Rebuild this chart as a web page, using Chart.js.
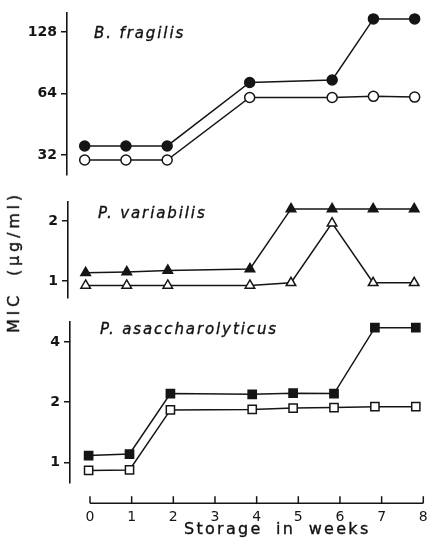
<!DOCTYPE html>
<html>
<head>
<meta charset="utf-8">
<script src="https://cdn.jsdelivr.net/npm/chart.js@4.4.1/dist/chart.umd.min.js"></script>
<style>
  html, body { margin: 0; padding: 0; background: #fff; }
  #wrap { position: relative; width: 429px; height: 545px; overflow: hidden; background: #fff; }
  canvas { position: absolute; left: 0; }
  .lbl { position: absolute; font-family: 'DejaVu Sans', sans-serif; color: #111; white-space: nowrap; line-height: 16px; -webkit-text-stroke: 0.35px #111; }
  .panel { font-style: italic; font-size: 15px; letter-spacing: 1.9px; }
  #ytitle { left: 14px; top: 262px; font-size: 16px; letter-spacing: 3.8px; word-spacing: 7px; transform: translate(-50%, -50%) rotate(-90deg); }
  #xtitle { left: 184px; top: 521px; font-size: 16px; letter-spacing: 2.3px; word-spacing: 6px; }
</style>
</head>
<body>
<div id="wrap">
  <canvas id="c1" width="429" height="182" style="top:0px"></canvas>
  <canvas id="c2" width="429" height="115" style="top:190px"></canvas>
  <canvas id="c3" width="429" height="180" style="top:310px"></canvas>
  <canvas id="cx" width="429" height="44" style="top:480px"></canvas>
  <div class="lbl panel" style="left:94px; top:25px;">B. fragilis</div>
  <div class="lbl panel" style="left:98px; top:205px;">P. variabilis</div>
  <div class="lbl panel" style="left:100px; top:321px;">P. asaccharolyticus</div>
  <div class="lbl" id="ytitle">MIC (μg/ml)</div>
  <div class="lbl" id="xtitle">Storage in weeks</div>
</div>
<script>
// ---- data ----
const fragWeeks  = [0, 1, 2, 4, 6, 7, 8];
const fragFilled = [35.4, 35.4, 35.4, 72.5, 74.6, 148.7, 148.7];
const fragOpen   = [30.2, 30.2, 30.2, 61.2, 61.2, 62, 61.5];
const fragTicks  = [32, 64, 128];

const variWeeks  = [0, 1, 2, 4, 5, 6, 7, 8];
const variFilled = [1.10, 1.11, 1.13, 1.15, 2.3, 2.3, 2.3, 2.3];
const variOpen   = [0.95, 0.95, 0.95, 0.95, 0.98, 1.95, 0.98, 0.98];
const variTicks  = [1, 2];

const asacWeeks  = [0, 1, 2, 4, 5, 6, 7, 8];
const asacFilled = [1.08, 1.10, 2.21, 2.19, 2.22, 2.21, 4.73, 4.73];
const asacOpen   = [0.91, 0.915, 1.83, 1.84, 1.87, 1.88, 1.9, 1.9];
const asacTicks  = [1, 2, 4];

const weekTicks  = [0, 1, 2, 3, 4, 5, 6, 7, 8];

// ---- styling ----
const INK = '#151515';
const FONT = { family: "'DejaVu Sans', sans-serif", size: 14, weight: 'bold' };

function pts(xs, ys) { return xs.map((x, i) => ({ x: x, y: ys[i] })); }

function ds(xs, ys, style, filled, r) {
  return {
    data: pts(xs, ys),
    borderColor: INK,
    borderWidth: 1.5,
    pointStyle: style,
    pointRadius: r,
    pointBorderWidth: 1.5,
    pointBorderColor: INK,
    pointBackgroundColor: filled ? INK : '#fff',
    tension: 0,
    clip: false
  };
}

function panel(id, datasets, yMin, yMax, ticks, axisW, padTop, padBottom, xMin, xMax) {
  return new Chart(document.getElementById(id), {
    type: 'line',
    data: { datasets: datasets },
    options: {
      responsive: false,
      devicePixelRatio: 1,
      animation: false,
      events: [],
      layout: { padding: { top: padTop, bottom: padBottom, left: 0, right: 0 } },
      plugins: { legend: { display: false }, tooltip: { enabled: false } },
      scales: {
        x: { type: 'linear', display: false, min: xMin, max: xMax },
        y: {
          type: 'logarithmic',
          min: yMin, max: yMax,
          afterBuildTicks: s => { s.ticks = ticks.map(v => ({ value: v })); },
          afterFit: s => { s.width = axisW; s.paddingTop = 0; s.paddingBottom = 0; },
          border: { display: true, color: INK, width: 1.6 },
          grid: { drawOnChartArea: false, drawTicks: true, tickLength: 6, color: INK, lineWidth: 1.5 },
          ticks: { color: INK, font: FONT, padding: 4, callback: v => String(v) }
        }
      }
    }
  });
}

panel('c1', [
  ds(fragWeeks, fragFilled, 'circle', true, 5),
  ds(fragWeeks, fragOpen, 'circle', false, 5)
], 25.5, 159, fragTicks, 67, 13, 7, -0.4286, 8.19);

panel('c2', [
  ds(variWeeks, variFilled, 'triangle', true, 5.5),
  ds(variWeeks, variOpen, 'triangle', false, 5.5)
], 0.822, 2.49, variTicks, 68, 12, 7, -0.43, 8.19);

panel('c3', [
  ds(asacWeeks, asacFilled, 'rect', true, 5.8),
  ds(asacWeeks, asacOpen, 'rect', false, 5.8)
], 0.79, 5.05, asacTicks, 70, 12, 7, -0.455, 8.144);

// detached x axis: line and upward ticks drawn from the library's scale
const xAxisPlugin = {
  id: 'xAxisLine',
  afterDraw(chart) {
    const s = chart.scales.x;
    const ctx = chart.ctx;
    const y = s.top;
    ctx.save();
    ctx.strokeStyle = INK;
    ctx.lineWidth = 1.6;
    ctx.beginPath();
    ctx.moveTo(s.getPixelForValue(weekTicks[0]), y);
    ctx.lineTo(s.getPixelForValue(weekTicks[weekTicks.length - 1]), y);
    ctx.stroke();
    ctx.lineWidth = 1.5;
    weekTicks.forEach(v => {
      const x = s.getPixelForValue(v);
      ctx.beginPath();
      ctx.moveTo(x, y);
      ctx.lineTo(x, y - 7);
      ctx.stroke();
    });
    ctx.restore();
  }
};

new Chart(document.getElementById('cx'), {
  type: 'line',
  data: { datasets: [] },
  plugins: [xAxisPlugin],
  options: {
    responsive: false,
    devicePixelRatio: 1,
    animation: false,
    events: [],
    layout: { padding: { top: 0, bottom: 0, left: 70, right: 0 } },
    plugins: { legend: { display: false }, tooltip: { enabled: false } },
    scales: {
      x: {
        type: 'linear', min: -0.48, max: 8.137,
        afterBuildTicks: s => { s.ticks = weekTicks.map(v => ({ value: v })); },
        afterFit: s => { s.paddingLeft = 0; s.paddingRight = 0; },
        border: { display: false },
        grid: { display: false },
        ticks: { color: INK, font: { family: "'DejaVu Sans', sans-serif", size: 14 }, padding: -2, maxRotation: 0, autoSkip: false, callback: v => String(v) }
      },
      y: { display: false, min: 0, max: 1 }
    }
  }
});
</script>
</body>
</html>
